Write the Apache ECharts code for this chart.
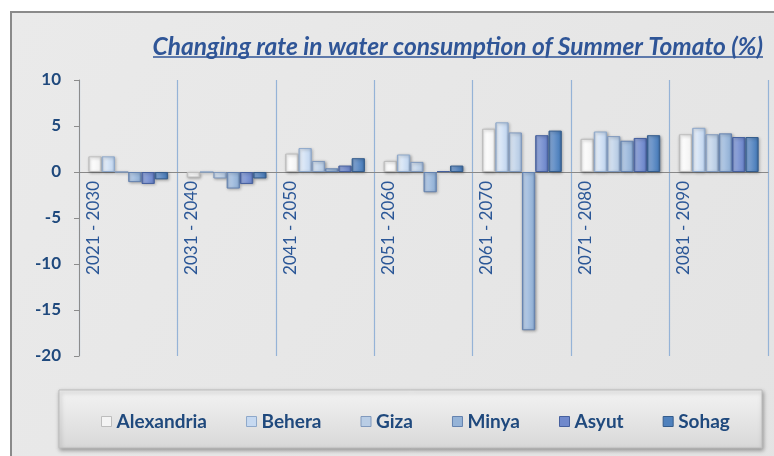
<!DOCTYPE html>
<html>
<head>
<meta charset="utf-8">
<script src="https://cdn.jsdelivr.net/npm/echarts@6/dist/echarts.min.js"></script>
<style>
  html, body { margin: 0; padding: 0; background: #fff; }
  #main { width: 774px; height: 456px; }
</style>
</head>
<body>
<div id="main"></div>
<script>
// periods on the x axis
var categories = ["2021 - 2030", "2031 - 2040", "2041 - 2050", "2051 - 2060", "2061 - 2070", "2071 - 2080", "2081 - 2090"];
// changing rate (%) per governorate
var alexandria = [1.7, -0.6, 2.0, 1.2, 4.7, 3.6, 4.1];
var behera = [1.7, 0, 2.6, 1.9, 5.4, 4.4, 4.8];
var giza = [0, -0.7, 1.2, 1.1, 4.3, 3.9, 4.1];
var minya = [-1.1, -1.8, 0.4, -2.2, -17.2, 3.4, 4.2];
var asyut = [-1.3, -1.3, 0.7, 0.1, 4.0, 3.7, 3.8];
var sohag = [-0.8, -0.7, 1.5, 0.7, 4.5, 4.0, 3.8];
var yTicks = [-20, -15, -10, -5, 0, 5, 10];

var FONT = "Lato";
var BLUE = "#1F497D";

// bevel-ish look: darker edges, light middle
function bevel(light, base, edge) {
  return new echarts.graphic.LinearGradient(0, 0, 1, 0, [
    { offset: 0, color: edge },
    { offset: 0.18, color: light },
    { offset: 0.8, color: base },
    { offset: 1, color: edge }
  ]);
}

var legendItems = [];

function bar(name, data, light, base, edge, border) {
  legendItems.push({ name: name, itemStyle: { color: base, borderColor: border, borderWidth: 1 } });
  return {
    name: name,
    type: "bar",
    data: data,
    barGap: "0%",
    barCategoryGap: "19%",
    itemStyle: {
      color: bevel(light, base, edge),
      borderColor: border,
      borderWidth: 1,
      shadowColor: "rgba(0,0,0,0.3)",
      shadowBlur: 3,
      shadowOffsetX: 1,
      shadowOffsetY: 1
    }
  };
}

var myChart = echarts.init(document.getElementById("main"));

var gridTop = 80, gridBottom = 100;
var plotH = 456 - gridTop - gridBottom;
// distance from the top of the plot down to the zero line
var zeroOffset = plotH * yTicks[yTicks.length - 1] / (yTicks[yTicks.length - 1] - yTicks[0]);

var series = [
  bar("Alexandria", alexandria, "#FFFFFF", "#F4F4F4", "#CFCFCF", "#BDBDBD"),
  bar("Behera", behera, "#E6EFFA", "#C6D9F1", "#9FB8D8", "#8EA8CA"),
  bar("Giza", giza, "#D8E4F2", "#B9CDE5", "#8FA9CC", "#8099BD"),
  bar("Minya", minya, "#B8CDE8", "#95B3D7", "#6F8FBC", "#6482AF"),
  bar("Asyut", asyut, "#94A8DC", "#7089CC", "#4E66A8", "#46609E"),
  bar("Sohag", sohag, "#7FA3D2", "#4F81BD", "#3A6598", "#345C8C")
];

var option = {
  animation: false,
  backgroundColor: "#ffffff",
  title: {
    text: "Changing rate in water consumption of Summer Tomato (%)",
    right: 6,
    top: 30,
    textStyle: {
      fontFamily: FONT,
      fontSize: 24.5,
      fontStyle: "italic",
      fontWeight: "bold",
      color: "#2F5597"
    }
  },
  graphic: [
    {
      type: "rect",
      z: -100,
      silent: true,
      shape: { x: 11, y: 12, width: 800, height: 500 },
      style: {
        fill: new echarts.graphic.LinearGradient(0, 0, 1, 1, [
          { offset: 0, color: "#EAEAEA" },
          { offset: 1, color: "#E3E3E3" }
        ]),
        stroke: "#8A8A8A",
        lineWidth: 2
      }
    },
    {
      type: "line",
      silent: true,
      shape: { x1: 153, y1: 57, x2: 763, y2: 57 },
      style: { stroke: "#2F5597", lineWidth: 1.5 }
    },
    {
      type: "rect",
      z: -50,
      silent: true,
      shape: { x: 59, y: 390, width: 703, height: 58 },
      style: {
        fill: new echarts.graphic.LinearGradient(0, 0, 0, 1, [
          { offset: 0, color: "#F3F3F3" },
          { offset: 1, color: "#D8D8D8" }
        ]),
        stroke: "#BDBDBD",
        lineWidth: 1,
        shadowColor: "rgba(0,0,0,0.35)",
        shadowBlur: 4,
        shadowOffsetX: 1,
        shadowOffsetY: 2
      }
    }
  ],
  legend: {
    left: 96,
    top: 407,
    itemWidth: 10,
    itemHeight: 10,
    itemGap: 39,
    icon: "rect",
    textStyle: { fontFamily: FONT, fontSize: 19, fontWeight: "bold", color: BLUE },
    data: legendItems
  },
  grid: { left: 79, right: 6, top: gridTop, bottom: gridBottom, containLabel: false, outerBoundsMode: "none" },
  xAxis: {
    type: "category",
    data: categories,
    position: "top",
    offset: -zeroOffset,
    axisLine: { onZero: false, lineStyle: { color: "#888888", width: 1 } },
    axisTick: { show: false },
    splitLine: { show: true, lineStyle: { color: "#95B3D7", width: 1.2 } },
    axisLabel: {
      inside: true,
      rotate: -90,
      interval: 0,
      showMinLabel: true,
      showMaxLabel: true,
      hideOverlap: false,
      margin: 9,
      lineHeight: 70,
      formatter: function (v) { return v + "\n\u00a0"; },
      fontFamily: FONT,
      fontSize: 17,
      color: "#2B5797"
    }
  },
  yAxis: {
    type: "value",
    min: yTicks[0],
    max: yTicks[yTicks.length - 1],
    interval: 5,
    axisLine: { show: true, lineStyle: { color: "#8C8C8C" } },
    axisTick: { show: true, length: 5, lineStyle: { color: "#8C8C8C" } },
    splitLine: { show: false },
    axisLabel: {
      margin: 18,
      fontFamily: FONT,
      fontSize: 17,
      fontWeight: "bold",
      color: BLUE
    }
  },
  series: series
};

myChart.setOption(option);
</script>
</body>
</html>
